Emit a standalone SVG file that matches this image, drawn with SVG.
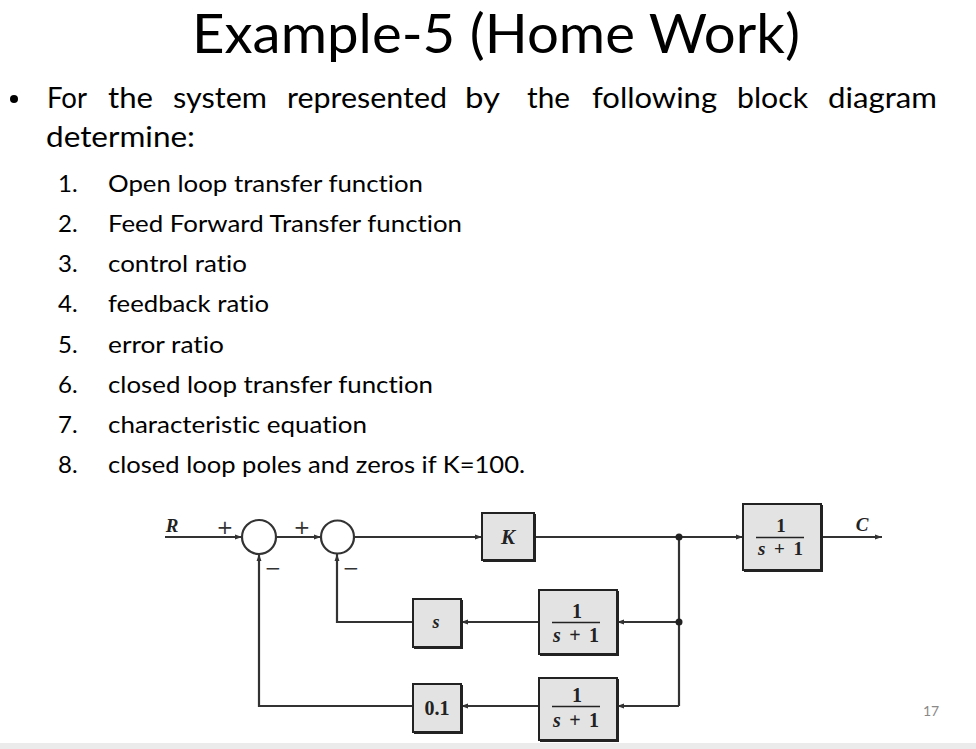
<svg xmlns="http://www.w3.org/2000/svg" width="976" height="749" viewBox="0 0 976 749">
<style>
.t{font-family:Lato,"Open Sans","Liberation Sans",sans-serif;fill:#000;font-variant-ligatures:none;font-feature-settings:"liga" 0,"clig" 0,"dlig" 0}
.title{font-size:55px}
.b{font-size:28px}
.li{font-size:24px}
.d{font-family:"Liberation Serif","DejaVu Serif",serif;font-weight:bold;fill:#222}
.it{font-style:italic}
.box{fill:#e3e3e3;stroke:#222;stroke-width:2}
.sh{fill:none;stroke:#222;stroke-width:3}
.w{fill:none;stroke:#333;stroke-width:2.2}
.c{fill:#fff;stroke:#333;stroke-width:2.2}
.pm{font-family:"DejaVu Sans",sans-serif;font-size:20px;fill:#333}
</style>
<defs>
<marker id="a" viewBox="0 0 10 10" refX="10" refY="5" markerWidth="9" markerHeight="7" markerUnits="userSpaceOnUse" orient="auto">
<path d="M0,1.5 L10,5 L0,8.5 Z" fill="#333"/>
</marker>
</defs>
<rect width="976" height="749" fill="#fff"/>
<rect x="0" y="743" width="976" height="6" fill="#ebebeb"/>

<g id="text">
<text class="t title" x="192" y="53" textLength="608" lengthAdjust="spacingAndGlyphs">Example-5 (Home Work)</text>
<circle cx="14" cy="99" r="4" fill="#000"/>
<text class="t b" x="47" y="108" textLength="40" lengthAdjust="spacingAndGlyphs">For</text>
<text class="t b" x="108" y="108" textLength="45" lengthAdjust="spacingAndGlyphs">the</text>
<text class="t b" x="173" y="108" textLength="94" lengthAdjust="spacingAndGlyphs">system</text>
<text class="t b" x="287" y="108" textLength="160" lengthAdjust="spacingAndGlyphs">represented</text>
<text class="t b" x="465" y="108" textLength="35" lengthAdjust="spacingAndGlyphs">by</text>
<text class="t b" x="527" y="108" textLength="43" lengthAdjust="spacingAndGlyphs">the</text>
<text class="t b" x="592" y="108" textLength="125" lengthAdjust="spacingAndGlyphs">following</text>
<text class="t b" x="737" y="108" textLength="71" lengthAdjust="spacingAndGlyphs">block</text>
<text class="t b" x="828" y="108" textLength="109" lengthAdjust="spacingAndGlyphs">diagram</text>
<text class="t b" x="46" y="147" textLength="149" lengthAdjust="spacingAndGlyphs">determine:</text>

<g class="t li">
<text x="58" y="192">1.</text><text x="108" y="192" textLength="315" lengthAdjust="spacingAndGlyphs">Open loop transfer function</text>
<text x="58" y="232">2.</text><text x="108" y="232" textLength="354" lengthAdjust="spacingAndGlyphs">Feed Forward Transfer function</text>
<text x="58" y="272">3.</text><text x="108" y="272" textLength="139" lengthAdjust="spacingAndGlyphs">control ratio</text>
<text x="58" y="312">4.</text><text x="108" y="312" textLength="161" lengthAdjust="spacingAndGlyphs">feedback ratio</text>
<text x="58" y="353">5.</text><text x="108" y="353" textLength="116" lengthAdjust="spacingAndGlyphs">error ratio</text>
<text x="58" y="393">6.</text><text x="108" y="393" textLength="325" lengthAdjust="spacingAndGlyphs">closed loop transfer function</text>
<text x="58" y="433">7.</text><text x="108" y="433" textLength="259" lengthAdjust="spacingAndGlyphs">characteristic equation</text>
<text x="58" y="473">8.</text><text x="108" y="473" textLength="417" lengthAdjust="spacingAndGlyphs">closed loop poles and zeros if K=100.</text>
</g>
<text x="923" y="716" font-family="Lato,'Open Sans',sans-serif" font-size="14" fill="#8a8a8a">17</text>
</g>

<g id="connectors">
<path class="w" d="M165,537 H242" marker-end="url(#a)"/>
<path class="w" d="M276,537 H321" marker-end="url(#a)"/>
<path class="w" d="M354,537 H482" marker-end="url(#a)"/>
<path class="w" d="M534,537 H743" marker-end="url(#a)"/>
<path class="w" d="M821,537 H882" marker-end="url(#a)"/>
<path class="w" d="M679,537 V706"/>
<path class="w" d="M679,622 H617" marker-end="url(#a)"/>
<path class="w" d="M539,622 H461" marker-end="url(#a)"/>
<path class="w" d="M413,622 H337 V554" marker-end="url(#a)"/>
<path class="w" d="M679,706 H617" marker-end="url(#a)"/>
<path class="w" d="M539,706 H461" marker-end="url(#a)"/>
<path class="w" d="M413,706 H259 V554" marker-end="url(#a)"/>
<circle cx="679" cy="537" r="3.5" fill="#222"/>
<circle cx="679" cy="622" r="3.5" fill="#222"/>
</g>

<g id="labels">
<text class="d it" x="172" y="532" font-size="19" text-anchor="middle">R</text>
<text class="d it" x="862" y="531" font-size="19" text-anchor="middle">C</text>
<text class="pm" x="225" y="534" text-anchor="middle">+</text>
<text class="pm" x="302" y="534" text-anchor="middle">+</text>
<text class="pm" x="273" y="575" text-anchor="middle">−</text>
<text class="pm" x="351" y="575" text-anchor="middle">−</text>
</g>

<g id="sum1"><circle class="c" cx="259" cy="537" r="17"/></g>
<g id="sum2"><circle class="c" cx="337.5" cy="537" r="16.5"/></g>

<g id="blockK">
<rect class="box" x="482" y="513" width="52" height="47"/>
<path class="sh" d="M483,560.5 H534.5 V514"/>
<text class="d it" x="508" y="544" font-size="21" text-anchor="middle">K</text>
</g>

<g id="blockG">
<rect class="box" x="743" y="504" width="78" height="66"/>
<path class="sh" d="M744,570.5 H821.5 V505"/>
<text class="d" x="781" y="532" font-size="19" text-anchor="middle">1</text>
<line x1="756" y1="537.5" x2="804" y2="537.5" stroke="#222" stroke-width="1.6"/>
<text class="d" x="758" y="555" font-size="19" textLength="45" lengthAdjust="spacing"><tspan font-style="italic">s</tspan> + 1</text>
</g>

<g id="blockH1">
<rect class="box" x="539" y="590" width="78" height="64"/>
<path class="sh" d="M540,654.5 H617.5 V591"/>
<text class="d" x="577" y="618" font-size="20" text-anchor="middle">1</text>
<line x1="552" y1="622.5" x2="600" y2="622.5" stroke="#222" stroke-width="1.6"/>
<text class="d" x="553" y="642" font-size="20" textLength="46" lengthAdjust="spacing"><tspan font-style="italic">s</tspan> + 1</text>
</g>

<g id="blockH2">
<rect class="box" x="539" y="678" width="78" height="62"/>
<path class="sh" d="M540,740.5 H617.5 V679"/>
<text class="d" x="577" y="702" font-size="20" text-anchor="middle">1</text>
<line x1="552" y1="706.5" x2="600" y2="706.5" stroke="#222" stroke-width="1.6"/>
<text class="d" x="553" y="727" font-size="20" textLength="46" lengthAdjust="spacing"><tspan font-style="italic">s</tspan> + 1</text>
</g>

<g id="blockS">
<rect class="box" x="413" y="599" width="48" height="48"/>
<path class="sh" d="M414,647.5 H461.5 V600"/>
<text class="d it" x="436" y="628" font-size="18" text-anchor="middle">s</text>
</g>

<g id="block01">
<rect class="box" x="413" y="684" width="48" height="48"/>
<path class="sh" d="M414,732.5 H461.5 V685"/>
<text class="d" x="437" y="715" font-size="20" text-anchor="middle">0.1</text>
</g>
</svg>
